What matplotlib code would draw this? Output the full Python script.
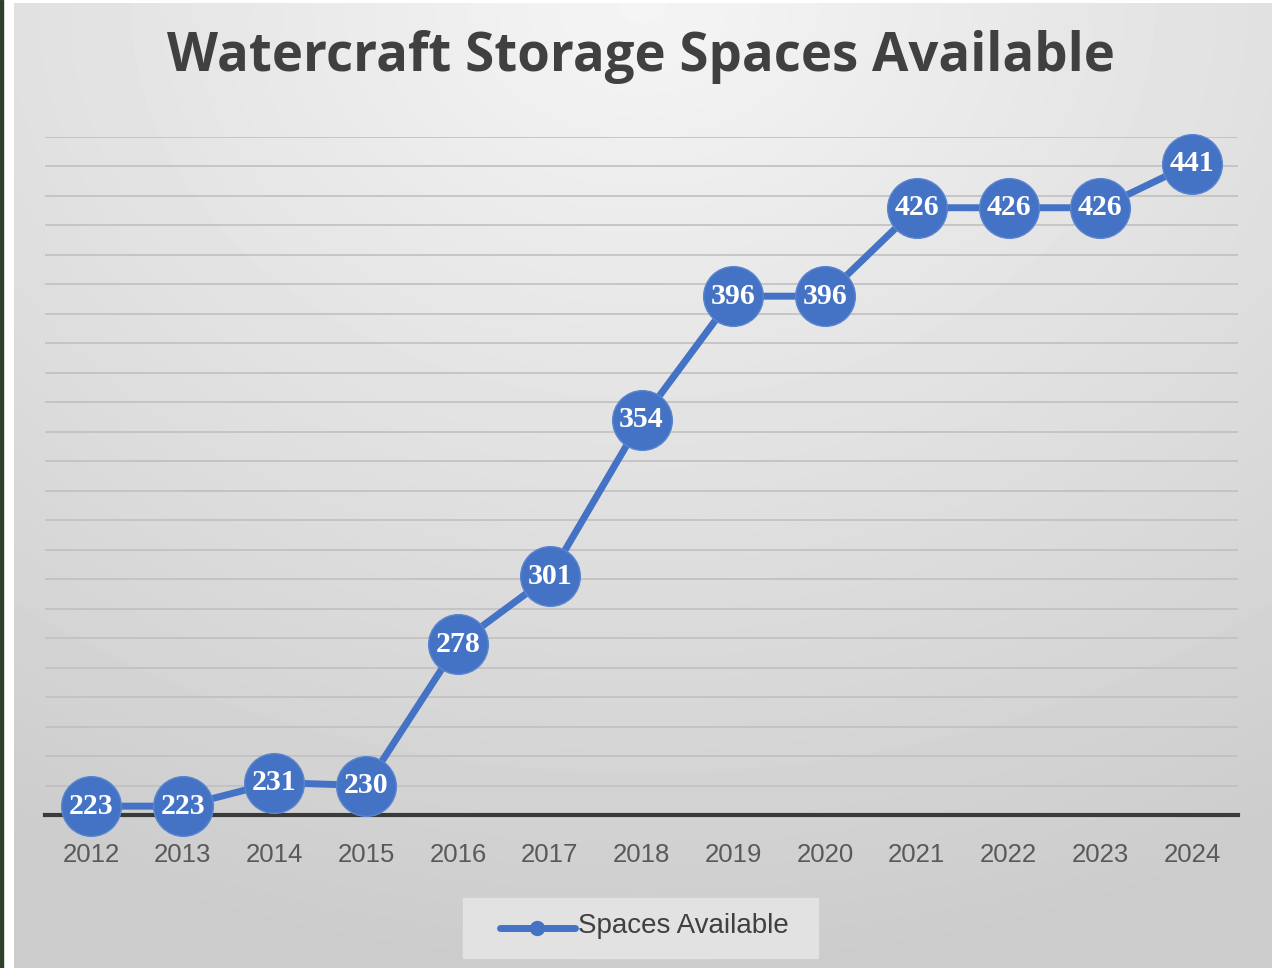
import matplotlib
matplotlib.use("Agg")
import matplotlib.pyplot as plt
import numpy as np

years = ["2012", "2013", "2014", "2015", "2016", "2017", "2018",
         "2019", "2020", "2021", "2022", "2023", "2024"]
spaces = [223, 223, 231, 230, 278, 301, 354, 396, 396, 426, 426, 426, 441]
series_name = "Spaces Available"
title = "Watercraft Storage Spaces Available"

W, H = 1281, 968
blue = "#4472C4"

fig = plt.figure(figsize=(W / 100, H / 100), dpi=100, facecolor="white")

# dark strip at the left edge (photo edge in the reference)
fig.patches.append(plt.Rectangle((0, 0), 3 / W, 1, transform=fig.transFigure,
                                 color="#2f3f2a", zorder=0))

# gradient background of the chart area
bg = fig.add_axes([14 / W, 0, (1272 - 14) / W, 1 - 3 / H], zorder=0)
yy, xx = np.mgrid[0:1:200j, 0:1:200j]
d = np.sqrt((xx - 0.5) ** 2 + yy ** 2)
shade = 0.96 - 0.16 * np.clip(d, 0, 1)
bg.imshow(shade, cmap="gray", vmin=0, vmax=1, aspect="auto",
          extent=[0, 1, 0, 1], origin="upper", interpolation="bicubic")
bg.axis("off")

ax = fig.add_axes([45 / W, (H - 815) / H, 1193 / W, 678 / H], zorder=1)
ax.patch.set_alpha(0)

x = np.arange(len(years))
ax.plot(x, spaces, color=blue, lw=5, marker="o", markersize=43,
        markerfacecolor=blue, markeredgecolor="#5a86d0", markeredgewidth=1,
        zorder=3, solid_capstyle="round", clip_on=False)
for xi, v in zip(x, spaces):
    ax.text(xi, v, str(v), ha="center", va="center", color="white",
            fontsize=21.5, fontweight="bold", family="Liberation Serif", zorder=4)

ax.set_xlim(-0.5, len(years) - 0.5)
ax.set_ylim(220, 450)
ax.set_yticks(np.arange(220, 451, 10))
ax.yaxis.grid(True, color="#c0c0c0", lw=1.2)
ax.set_axisbelow(True)
ax.tick_params(axis="y", left=False, labelleft=False)
ax.set_xticks(x)
ax.set_xticklabels(years, fontsize=18.5, color="#595959", family="Liberation Sans")
ax.tick_params(axis="x", length=0, pad=20)
for s in ["top", "right", "left"]:
    ax.spines[s].set_visible(False)
ax.spines["bottom"].set_color("#3a3a3a")
ax.spines["bottom"].set_linewidth(3)
ax.spines["bottom"].set_zorder(2.5)

fig.text(641 / W, 1 - 57 / H, title, ha="center", va="center",
         fontsize=38, fontweight="bold", color="#404040", family="Open Sans")

# legend
fig.patches.append(plt.Rectangle((463 / W, 1 - 958 / H), 355 / W, 60 / H,
                                 transform=fig.transFigure, color="#e2e2e2",
                                 zorder=1))
leg_ax = fig.add_axes([463 / W, 1 - 958 / H, 355 / W, 60 / H], zorder=2)
leg_ax.set_xlim(463, 818)
leg_ax.set_ylim(958, 898)
leg_ax.axis("off")
leg_ax.plot([500, 575], [928, 928], color=blue, lw=5, marker="",
            solid_capstyle="round")
leg_ax.plot([537], [928], color=blue, marker="o", markersize=10)
leg_ax.text(578, 926, series_name, ha="left", va="center", fontsize=20,
            color="#404040", family="Liberation Sans")

fig.savefig("out.png", dpi=100, facecolor="white")
